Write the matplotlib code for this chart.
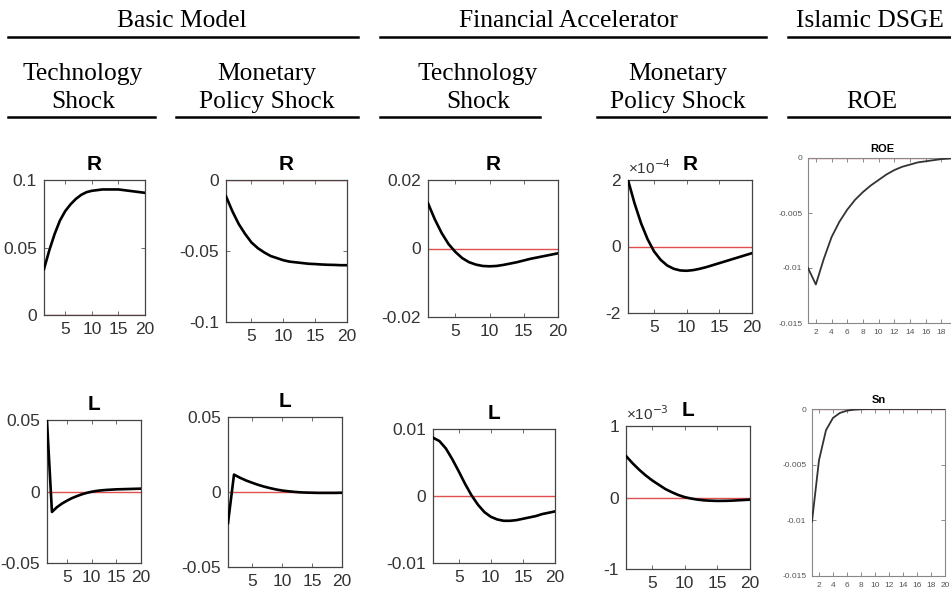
import numpy as np
import matplotlib
matplotlib.use("Agg")
import matplotlib.pyplot as plt
from matplotlib.lines import Line2D

# horizon
periods = list(range(1, 21))

# Basic model, technology shock
basic_tech_r = [0.034, 0.048, 0.060, 0.070, 0.077, 0.082, 0.086, 0.089, 0.091, 0.092,
                0.0925, 0.093, 0.093, 0.093, 0.093, 0.0925, 0.092, 0.0915, 0.091, 0.0905]
basic_tech_l = [0.049, -0.0143, -0.011, -0.0085, -0.0065, -0.0047, -0.0033, -0.002, -0.001, -0.0002,
                0.0004, 0.0008, 0.0011, 0.0013, 0.0015, 0.0016, 0.0017, 0.0018, 0.0019, 0.002]
# Basic model, monetary policy shock
basic_mon_r = [-0.0115, -0.022, -0.031, -0.038, -0.044, -0.048, -0.051, -0.0535, -0.055, -0.0565,
               -0.0575, -0.058, -0.0585, -0.059, -0.0592, -0.0595, -0.0597, -0.0598, -0.06, -0.06]
basic_mon_l = [-0.0207, 0.0116, 0.0095, 0.0077, 0.0062, 0.0048, 0.0036, 0.0026, 0.0017, 0.001,
               0.0005, 0.0001, -0.0002, -0.0004, -0.0005, -0.0006, -0.0006, -0.0006, -0.0006, -0.0005]
# Financial accelerator, technology shock
fa_tech_r = [0.0132, 0.0085, 0.0045, 0.0013, -0.001, -0.0028, -0.004, -0.0047, -0.0051, -0.0052,
             -0.0051, -0.0048, -0.0044, -0.004, -0.0035, -0.003, -0.0026, -0.0022, -0.0018, -0.0014]
fa_tech_l = [0.0087, 0.0082, 0.0071, 0.0055, 0.0037, 0.0018, 0.0001, -0.0013, -0.0024, -0.0031,
             -0.0035, -0.0037, -0.0037, -0.0036, -0.0034, -0.0032, -0.003, -0.0027, -0.0025, -0.0023]
# Financial accelerator, monetary policy shock
fa_mon_r = [2.0e-4, 1.3e-4, 0.7e-4, 0.22e-4, -0.15e-4, -0.4e-4, -0.57e-4, -0.67e-4, -0.72e-4, -0.73e-4,
            -0.71e-4, -0.67e-4, -0.62e-4, -0.56e-4, -0.5e-4, -0.44e-4, -0.38e-4, -0.32e-4, -0.26e-4, -0.2e-4]
fa_mon_l = [0.58e-3, 0.48e-3, 0.39e-3, 0.31e-3, 0.24e-3, 0.18e-3, 0.12e-3, 0.075e-3, 0.035e-3, 0.005e-3,
            -0.015e-3, -0.03e-3, -0.04e-3, -0.045e-3, -0.048e-3, -0.047e-3, -0.045e-3, -0.04e-3, -0.035e-3, -0.03e-3]
# Islamic DSGE
islamic_roe = [-0.0100, -0.0115, -0.0092, -0.0072, -0.0058, -0.0047, -0.0038, -0.0031, -0.0025, -0.0020,
               -0.0015, -0.0011, -0.0008, -0.0006, -0.0004, -0.0003, -0.0002, -0.0001, -0.00005, 0.0]
islamic_sn = [-0.0101, -0.0046, -0.0019, -0.0008, -0.00035, -0.00015, -0.00006, -0.00002, 0.0, 0.0,
              0.0, 0.0, 0.0, 0.0, 0.0, 0.0, 0.0, 0.0, 0.0, 0.0]

W, H = 951, 603
fig = plt.figure(figsize=(W / 100, H / 100), dpi=100)
plt.rcParams["axes.unicode_minus"] = False

SANS = ["Liberation Sans Narrow", "Liberation Sans", "DejaVu Sans"]
SERIF = ["Liberation Serif", "DejaVu Serif"]


def fx(x):
    return x / W


def fy(y):
    return 1 - y / H


# headers
for txt, xc in [("Basic Model", 182), ("Financial Accelerator", 568), ("Islamic DSGE", 870)]:
    fig.text(fx(xc), fy(27), txt, ha="center", va="baseline", fontsize=18.4, family=SERIF)
for x0, x1 in [(8, 358), (380, 766), (788, 951)]:
    fig.add_artist(Line2D([fx(x0), fx(x1)], [fy(37), fy(37)], color="black", lw=1.8))

sub = [("Technology", "Shock", 83), ("Monetary", "Policy Shock", 267),
       ("Technology", "Shock", 478), ("Monetary", "Policy Shock", 678), ("", "ROE", 872)]
for l1, l2, xc in sub:
    fig.text(fx(xc), fy(80), l1, ha="center", va="baseline", fontsize=18.4, family=SERIF)
    fig.text(fx(xc), fy(108), l2, ha="center", va="baseline", fontsize=18.4, family=SERIF)
for x0, x1 in [(8, 155), (176, 358), (380, 540), (597, 766), (788, 951)]:
    fig.add_artist(Line2D([fx(x0), fx(x1)], [fy(117), fy(117)], color="black", lw=1.8))


def make_ax(x0, x1, y0, y1):
    return fig.add_axes([fx(x0), fy(y1), fx(x1) - fx(x0), fy(y0) - fy(y1)])


def matlab_panel(ax, y, ylim, yticks, ylabels, title, scale=1.0, expo=None):
    ax.plot(periods, np.array(y) * scale, color="black", lw=1.9, zorder=3)
    ax.axhline(0, color="#e05050", lw=1.0, zorder=2)
    ax.set_xlim(1, 20)
    ax.set_ylim(*ylim)
    ax.set_xticks([5, 10, 15, 20])
    ax.set_xticklabels(["5", "10", "15", "20"])
    ax.set_yticks(yticks)
    ax.set_yticklabels(ylabels)
    ax.tick_params(direction="in", top=True, right=True, length=3, width=0.6,
                   color="#555555", labelsize=12.5, pad=5)
    for lab in ax.get_xticklabels() + ax.get_yticklabels():
        lab.set_family(SANS)
        lab.set_color("#333333")
    for s in ax.spines.values():
        s.set_color("#444444")
        s.set_linewidth(0.9)
    ax.set_title(title, fontsize=15, fontweight="bold", family=SANS, pad=7)
    if expo:
        ax.text(0.0, 1.02, "\u00d710$^{%s}$" % expo, transform=ax.transAxes,
                ha="left", va="bottom", fontsize=11, family=SANS, color="#333333")


def islamic_panel(ax, y, title, xticks):
    ax.plot(periods, y, color="#333333", lw=1.3, zorder=3)
    ax.axhline(0, color="#e07070", lw=1.0, zorder=2)
    ax.set_xlim(1, 20)
    ax.set_ylim(-0.015, 0)
    ax.set_xticks(xticks)
    ax.set_yticks([-0.015, -0.01, -0.005, 0])
    ax.set_yticklabels(["-0.015", "-0.01", "-0.005", "0"])
    ax.tick_params(direction="in", top=True, right=True, length=3, width=0.6,
                   color="#777777", labelsize=6, pad=4)
    for lab in ax.get_xticklabels() + ax.get_yticklabels():
        lab.set_family(SANS)
        lab.set_color("#555555")
    for s in ax.spines.values():
        s.set_color("#888888")
        s.set_linewidth(0.8)
    ax.set_title(title, fontsize=8, fontweight="bold", family=SANS, pad=4)


# row 1 : R
matlab_panel(make_ax(44, 145, 180, 315), basic_tech_r, (0, 0.1), [0, 0.05, 0.1],
             ["0", "0.05", "0.1"], "R")
matlab_panel(make_ax(226, 347, 180, 322), basic_mon_r, (-0.1, 0), [-0.1, -0.05, 0],
             ["-0.1", "-0.05", "0"], "R")
matlab_panel(make_ax(428, 558, 180, 317), fa_tech_r, (-0.02, 0.02), [-0.02, 0, 0.02],
             ["-0.02", "0", "0.02"], "R")
matlab_panel(make_ax(628, 752, 180, 313), fa_mon_r, (-2, 2), [-2, 0, 2],
             ["-2", "0", "2"], "R", scale=1e4, expo="-4")
# the ROE panel is cut by the right edge of the picture
islamic_panel(make_ax(808, 957, 158, 323), islamic_roe, "ROE", list(range(2, 19, 2)))

# row 2 : L
matlab_panel(make_ax(47, 141, 420, 563), basic_tech_l, (-0.05, 0.05), [-0.05, 0, 0.05],
             ["-0.05", "0", "0.05"], "L")
matlab_panel(make_ax(228, 342, 417, 567), basic_mon_l, (-0.05, 0.05), [-0.05, 0, 0.05],
             ["-0.05", "0", "0.05"], "L")
matlab_panel(make_ax(433, 555, 429, 563), fa_tech_l, (-0.01, 0.01), [-0.01, 0, 0.01],
             ["-0.01", "0", "0.01"], "L")
matlab_panel(make_ax(626, 750, 426, 569), fa_mon_l, (-1, 1), [-1, 0, 1],
             ["-1", "0", "1"], "L", scale=1e3, expo="-3")
islamic_panel(make_ax(812, 945, 409, 576), islamic_sn, "Sn", list(range(2, 21, 2)))

fig.savefig("out.png", dpi=100)
